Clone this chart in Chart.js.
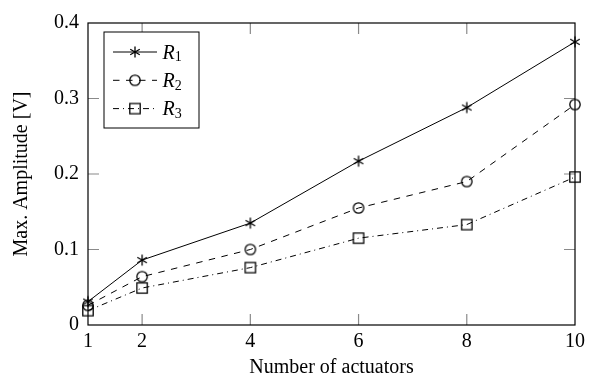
<!DOCTYPE html>
<html>
<head>
<meta charset="utf-8">
<script src="https://cdn.jsdelivr.net/npm/chart.js@4/dist/chart.umd.min.js"></script>
<style>
  html, body { margin: 0; padding: 0; background: #fff; }
  canvas { display: block; }
</style>
</head>
<body>
<canvas id="ampChart" width="590" height="385"></canvas>
<script>
// data
const actuators = [1, 2, 4, 6, 8, 10];
const r1Values = [0.031, 0.086, 0.135, 0.217, 0.288, 0.375];
const r2Values = [0.026, 0.064, 0.100, 0.155, 0.190, 0.292];
const r3Values = [0.019, 0.049, 0.076, 0.115, 0.133, 0.196];
const xTickValues = [1, 2, 4, 6, 8, 10];
const yTickValues = [0, 0.1, 0.2, 0.3, 0.4];
const seriesNames = ['R', 'R', 'R'];
const seriesSubs = ['1', '2', '3'];

const FONT = "'Liberation Serif', 'Times New Roman', serif";

// marker images (pgfplots style: asterisk, open circle, open square)
function makeMarker(kind) {
  const c = document.createElement('canvas');
  c.width = 16;
  c.height = 16;
  const g = c.getContext('2d');
  g.strokeStyle = '#000';
  g.lineWidth = 1.3;
  g.beginPath();
  if (kind === 'asterisk') {
    const r = 5.5;
    [90, 30, 150].forEach(deg => {
      const a = deg * Math.PI / 180;
      g.moveTo(8 - r * Math.cos(a), 8 - r * Math.sin(a));
      g.lineTo(8 + r * Math.cos(a), 8 + r * Math.sin(a));
    });
  } else if (kind === 'circle') {
    g.arc(8, 8, 5.2, 0, Math.PI * 2);
  } else {
    g.rect(8 - 5.2, 8 - 5.2, 10.4, 10.4);
  }
  g.stroke();
  return c;
}

const markers = [makeMarker('asterisk'), makeMarker('circle'), makeMarker('square')];
const dashes = [[], [6.5, 6.5], [6, 4, 1, 4]];

function toPoints(values) {
  return actuators.map((x, i) => ({ x: x, y: values[i] }));
}

// frame plus inward tick marks on all four sides
const framePlugin = {
  id: 'frameTicks',
  beforeDatasetsDraw(chart) {
    const { ctx, chartArea: a, scales } = chart;
    const len = 11;
    ctx.save();
    ctx.strokeStyle = '#8a8a8a';
    ctx.lineWidth = 1.2;
    ctx.beginPath();
    xTickValues.forEach(v => {
      const px = scales.x.getPixelForValue(v);
      if (Math.abs(px - a.left) < 1 || Math.abs(px - a.right) < 1) return;
      ctx.moveTo(px, a.bottom);
      ctx.lineTo(px, a.bottom - len);
      ctx.moveTo(px, a.top);
      ctx.lineTo(px, a.top + len);
    });
    yTickValues.forEach(v => {
      const py = scales.y.getPixelForValue(v);
      if (Math.abs(py - a.top) < 1 || Math.abs(py - a.bottom) < 1) return;
      ctx.moveTo(a.left, py);
      ctx.lineTo(a.left + len, py);
      ctx.moveTo(a.right, py);
      ctx.lineTo(a.right - len, py);
    });
    ctx.stroke();
    ctx.strokeStyle = '#000';
    ctx.lineWidth = 1.2;
    ctx.strokeRect(a.left, a.top, a.right - a.left, a.bottom - a.top);
    ctx.restore();
  }
};

// legend box in the top left corner
const legendPlugin = {
  id: 'boxLegend',
  afterDraw(chart) {
    const { ctx } = chart;
    const box = { x: 104, y: 32, w: 95, h: 96 };
    ctx.save();
    ctx.fillStyle = '#fff';
    ctx.fillRect(box.x, box.y, box.w, box.h);
    ctx.strokeStyle = '#000';
    ctx.lineWidth = 1;
    ctx.strokeRect(box.x, box.y, box.w, box.h);

    chart.data.datasets.forEach((ds, i) => {
      const rowY = box.y + 20 + i * 28.3;
      ctx.setLineDash(dashes[i]);
      ctx.lineWidth = 1;
      ctx.beginPath();
      ctx.moveTo(113, rowY);
      ctx.lineTo(157, rowY);
      ctx.stroke();
      ctx.setLineDash([]);
      const m = markers[i];
      ctx.drawImage(m, 135 - m.width / 2, rowY - m.height / 2);

      ctx.fillStyle = '#000';
      ctx.textBaseline = 'alphabetic';
      ctx.textAlign = 'left';
      ctx.font = 'italic 20px ' + FONT;
      const base = rowY + 6.8;
      ctx.fillText(seriesNames[i], 162.5, base);
      const w = ctx.measureText(seriesNames[i]).width;
      ctx.font = '14px ' + FONT;
      ctx.fillText(seriesSubs[i], 162.5 + w, base + 2.5);
    });
    ctx.restore();
  }
};

const datasets = [r1Values, r2Values, r3Values].map((vals, i) => ({
  label: seriesNames[i] + seriesSubs[i],
  data: toPoints(vals),
  borderColor: '#000',
  borderWidth: 1,
  borderDash: dashes[i],
  backgroundColor: 'transparent',
  pointStyle: markers[i],
  pointRadius: 6,
  pointHoverRadius: 6,
  tension: 0,
  fill: false,
  clip: false,
}));

new Chart(document.getElementById('ampChart').getContext('2d'), {
  type: 'line',
  data: { datasets: datasets },
  options: {
    responsive: false,
    animation: false,
    layout: { padding: { top: 23, right: 10, left: 0, bottom: 0 } },
    plugins: {
      legend: { display: false },
      tooltip: { enabled: false },
    },
    scales: {
      x: {
        type: 'linear',
        min: 1,
        max: 10,
        afterBuildTicks(s) { s.ticks = xTickValues.map(v => ({ value: v })); },
        afterFit(s) { s.height = 60; },
        grid: { display: false, drawTicks: false },
        border: { display: false },
        ticks: {
          color: '#000',
          padding: 5,
          maxRotation: 0,
          autoSkip: false,
          font: { family: FONT, size: 20 },
          callback: v => String(v),
        },
        title: {
          display: true,
          text: 'Number of actuators',
          color: '#000',
          font: { family: FONT, size: 20 },
          padding: { top: 0, bottom: 5 },
        },
      },
      y: {
        min: 0,
        max: 0.4,
        afterBuildTicks(s) { s.ticks = yTickValues.map(v => ({ value: v })); },
        afterFit(s) { s.width = 88; },
        grid: { display: false, drawTicks: false },
        border: { display: false },
        ticks: {
          color: '#000',
          padding: 9,
          font: { family: FONT, size: 20 },
          callback: v => (v === 0 ? '0' : v.toFixed(1)),
        },
        title: {
          display: true,
          text: 'Max. Amplitude [V]',
          color: '#000',
          font: { family: FONT, size: 20 },
          padding: { top: 9.5, bottom: 0 },
        },
      },
    },
  },
  plugins: [framePlugin, legendPlugin],
});
</script>
</body>
</html>
